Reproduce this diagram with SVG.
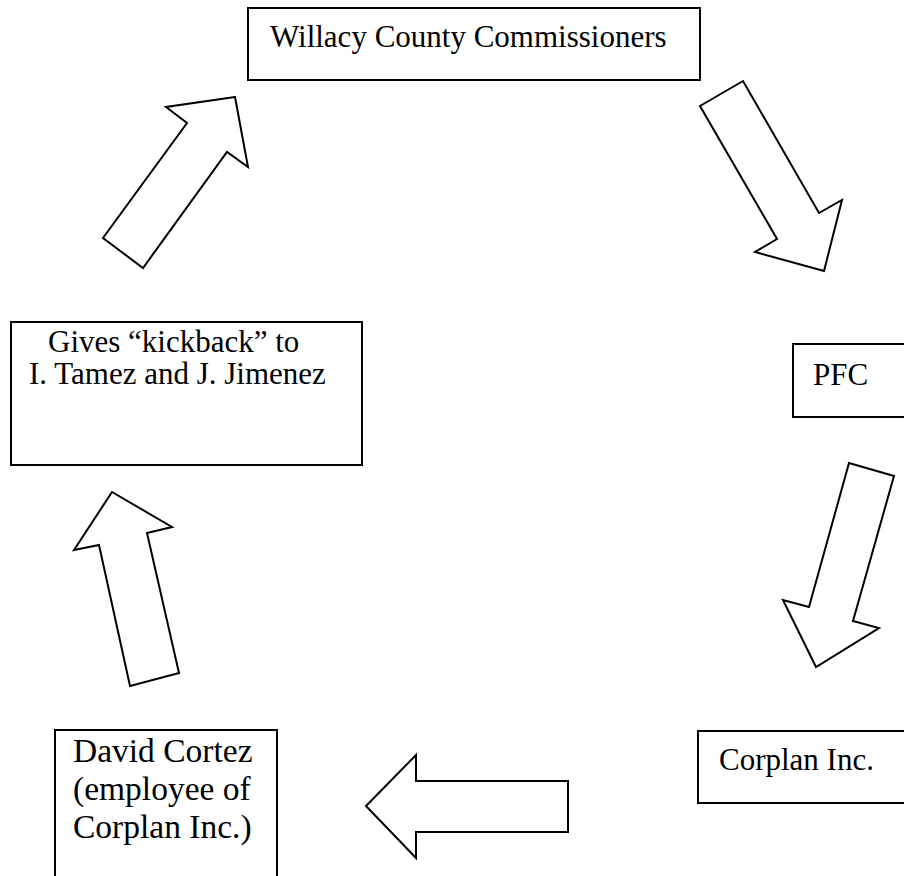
<svg xmlns="http://www.w3.org/2000/svg" width="904" height="876" viewBox="0 0 904 876">
<style>
.box{fill:#fff;stroke:#000;stroke-width:2}
.arr{fill:#fff;stroke:#000;stroke-width:2;stroke-linejoin:miter}
text{font-family:"Liberation Serif","Times New Roman",serif;font-size:31px;fill:#000}
</style>
<rect width="904" height="876" fill="#fff"/>
<g id="willacy">
<rect class="box" x="248" y="8" width="452" height="72"/>
<text x="270" y="47">Willacy County Commissioners</text>
</g>
<g id="pfc">
<rect class="box" x="793" y="344" width="130" height="73"/>
<text x="813" y="385">PFC</text>
</g>
<g id="corplan">
<rect class="box" x="698" y="731" width="230" height="72"/>
<text x="719" y="770">Corplan Inc.</text>
</g>
<g id="cortez">
<rect class="box" x="55" y="730" width="222" height="160"/>
<text x="73" y="762" style="font-size:33.5px">David Cortez</text>
<text x="73" y="800" style="font-size:33.5px">(employee of</text>
<text x="73" y="838" style="font-size:33.5px">Corplan Inc.)</text>
</g>
<g id="kickback">
<rect class="box" x="11" y="322" width="351" height="143"/>
<text x="48" y="352">Gives “kickback” to</text>
<text x="29" y="384">I. Tamez and J. Jimenez</text>
</g>
<g id="connectors">
<polygon class="arr" points="235,97 166,107 187,123 103,238 143,268 227,152 248,167"/>
<polygon class="arr" points="743,81 700,106 777,239 755,252 824,271 842,200 819,213"/>
<polygon class="arr" points="849,463 894,476 853,621 879,628 816,667 783,600 809,607"/>
<polygon class="arr" points="366,806 416,755 416,781 568,781 568,832 416,832 416,858"/>
<polygon class="arr" points="130,686 179,673 147,533 172,527 112,492 74,550 99,545"/>
</g>
</svg>
